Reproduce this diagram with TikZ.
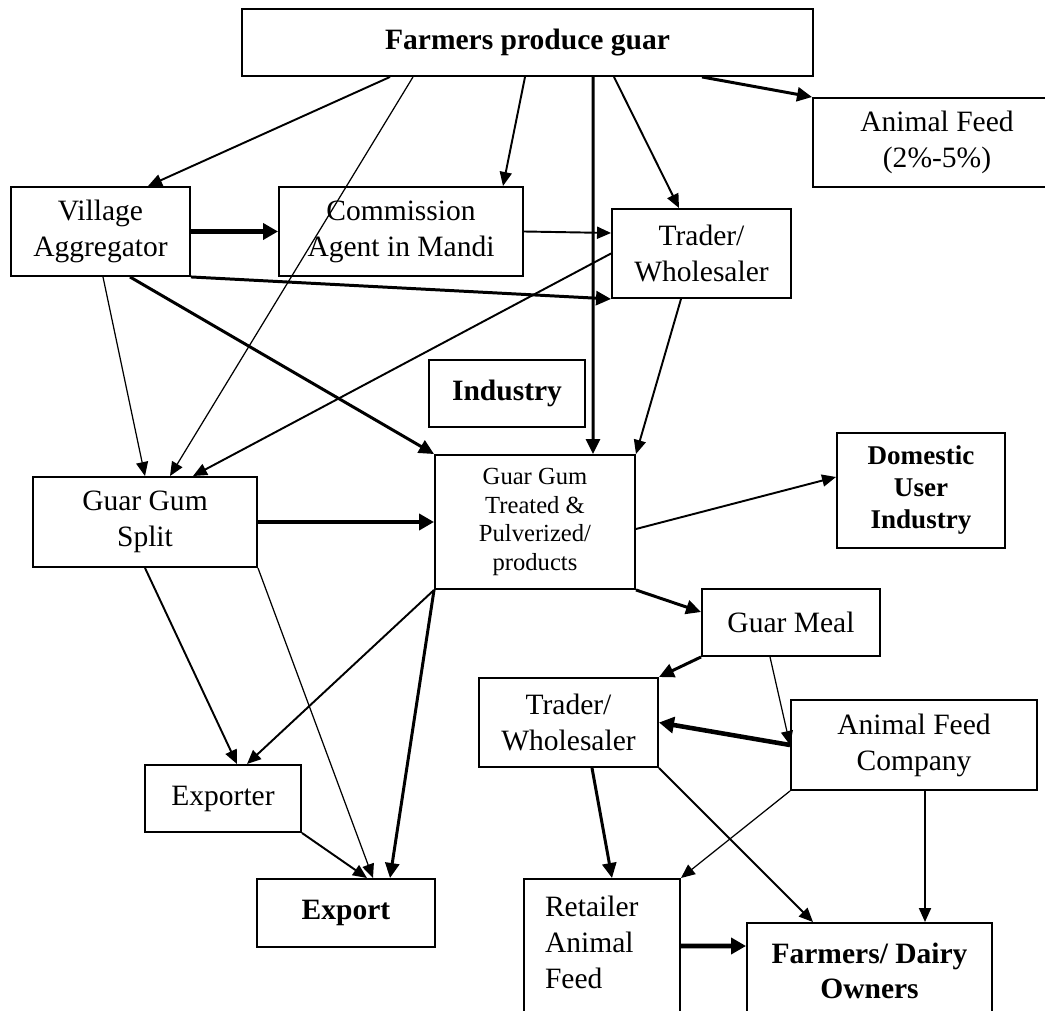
\documentclass[tikz,border=0pt]{standalone}
\usepackage{fontspec}
\setmainfont{Liberation Serif}
\usetikzlibrary{arrows.meta}

\begin{document}
\begin{tikzpicture}[
    box/.style={draw, line width=1.1pt, align=center, inner sep=2pt,
                font=\fontsize{16.8}{20.5}\selectfont},
    boldbox/.style={box, font=\fontsize{16.8}{20}\selectfont\bfseries},
    arr/.style={-{Triangle[length=0.28cm,width=0.24cm]}, line width=0.7pt},
    arrm/.style={arr, line width=1.1pt},
    arrt/.style={-{Triangle[length=0.3cm,width=0.28cm]}, line width=1.7pt},
    arrx/.style={-{Triangle[length=0.3cm,width=0.32cm]}, line width=2.6pt}
]
    % Page frame (the boxes at the edges run off it)
    \useasboundingbox (0,0) rectangle (20.9,20.2);
    \clip (0,0) rectangle (20.9,20.2);

    % Top row
    \node[boldbox, minimum width=11.42cm, minimum height=1.34cm] (farmers) at (10.55,19.35) {Farmers produce guar};
    \node[box, minimum width=4.96cm, minimum height=1.78cm] (animalfeed) at (18.74,17.35) {Animal Feed\\(2\%-5\%)};

    % Buyers of the crop
    \node[box, minimum width=3.58cm, minimum height=1.78cm] (village) at (2.01,15.57) {Village\\Aggregator};
    \node[box, minimum width=4.88cm, minimum height=1.78cm] (commission) at (8.02,15.57) {Commission\\Agent in Mandi};
    \node[box, minimum width=3.58cm, minimum height=1.78cm] (tradertop) at (14.03,15.13) {Trader/\\Wholesaler};

    % Processing
    \node[boldbox, minimum width=3.12cm, minimum height=1.34cm] (industry) at (10.14,12.33) {Industry};
    \node[box, minimum width=4.0cm, minimum height=2.68cm, font=\fontsize{14}{16.2}\selectfont] (treated) at (10.70,9.76) {Guar Gum\\Treated \&\\Pulverized/\\products};
    \node[boldbox, minimum width=3.36cm, minimum height=2.3cm, font=\fontsize{15.4}{18.2}\selectfont\bfseries] (domestic) at (18.42,10.39) {Domestic\\User\\Industry};
    \node[box, minimum width=4.48cm, minimum height=1.8cm] (split) at (2.90,9.76) {Guar Gum\\Split};
    \node[box, minimum width=3.56cm, minimum height=1.34cm] (guarmeal) at (15.82,7.75) {Guar Meal};

    % Feed chain
    \node[box, minimum width=3.58cm, minimum height=1.78cm] (traderlow) at (11.37,5.75) {Trader/\\Wholesaler};
    \node[box, minimum width=4.92cm, minimum height=1.8cm] (afcompany) at (18.28,5.30) {Animal Feed\\Company};
    \node[box, minimum width=3.12cm, minimum height=2.82cm, text width=2.28cm, align=left, text depth=49pt] (retailer) at (12.04,1.21) {Retailer\\Animal\\Feed};
    \node[boldbox, minimum width=4.9cm, minimum height=1.92cm] (dairy) at (17.39,0.78) {Farmers/ Dairy\\Owners};

    % Export chain
    \node[box, minimum width=3.12cm, minimum height=1.34cm] (exporter) at (4.46,4.23) {Exporter};
    \node[boldbox, minimum width=3.56cm, minimum height=1.36cm] (export) at (6.92,1.94) {Export};

    % Flows out of the farm
    \draw[arrm] ([xshift=-2.75cm]farmers.south) -- ([xshift=0.95cm]village.north);
    \draw[arr] ([xshift=-2.29cm]farmers.south) -- ([xshift=0.5cm]split.north);
    \draw[arrm] ([xshift=-0.05cm]farmers.south) -- ([xshift=2.04cm]commission.north);
    \draw[arrt] ([xshift=1.31cm]farmers.south) -- ([xshift=1.16cm]treated.north);
    \draw[arrm] ([xshift=1.73cm]farmers.south) -- ([xshift=-0.45cm]tradertop.north);
    \draw[arrt] ([xshift=3.49cm]farmers.south) -- (animalfeed.north west);

    % Between the buyers
    \draw[arrx] (village.east) -- (commission.west);
    \draw[arrm] (commission.east) -- ([yshift=0.41cm]tradertop.west);
    \draw[arrt] (village.south east) -- (tradertop.south west);
    \draw[arr] ([xshift=0.05cm]village.south) -- (split.north);
    \draw[arrt] ([xshift=0.59cm]village.south) -- (treated.north west);
    \draw[arrm] (tradertop.west) -- ([xshift=0.96cm]split.north);
    \draw[arrm] ([xshift=-0.41cm]tradertop.south) -- (treated.north east);

    % Processing and export
    \draw[arrx] (split.east) -- (treated.west);
    \draw[arrm] ([yshift=-0.14cm]treated.east) -- ([yshift=0.27cm]domestic.west);
    \draw[arrt] (treated.south east) -- ([yshift=0.21cm]guarmeal.west);
    \draw[arrm] (split.south) -- ([xshift=0.28cm]exporter.north);
    \draw[arr] (split.south east) -- ([xshift=0.54cm]export.north);
    \draw[arrm] (treated.south west) -- ([xshift=0.48cm]exporter.north);
    \draw[arrt] (treated.south west) -- ([xshift=0.88cm]export.north);
    \draw[arrm] (exporter.south east) -- ([xshift=0.42cm]export.north);

    % Guar meal to the dairy farmers
    \draw[arrt] (guarmeal.south west) -- (traderlow.north east);
    \draw[arr] ([xshift=-0.42cm]guarmeal.south) -- (afcompany.west);
    \draw[arrx] (afcompany.west) -- (traderlow.east);
    \draw[arrt] ([xshift=0.47cm]traderlow.south) -- ([xshift=0.2cm]retailer.north);
    \draw[arrm] (traderlow.south east) -- ([xshift=-1.13cm]dairy.north);
    \draw[arr] (afcompany.south west) -- (retailer.north east);
    \draw[arrm] ([xshift=0.22cm]afcompany.south) -- ([xshift=1.11cm]dairy.north);
    \draw[arrx] ([yshift=0.07cm]retailer.east) -- ([yshift=0.5cm]dairy.west);
\end{tikzpicture}
\end{document}
